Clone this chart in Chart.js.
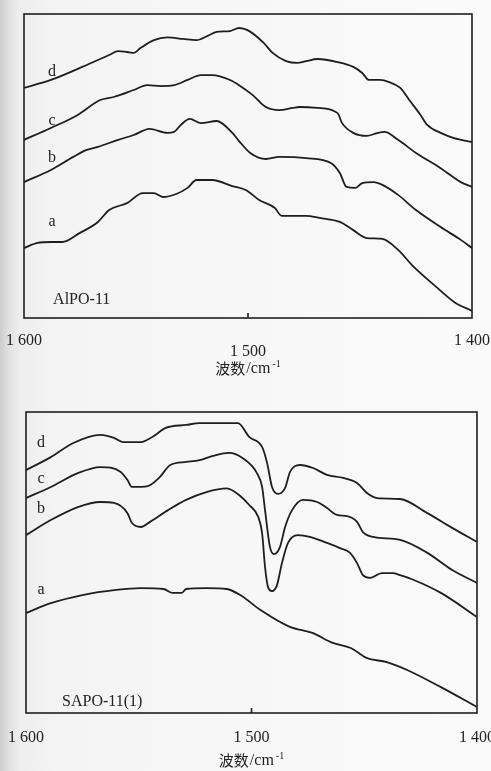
<!DOCTYPE html>
<html>
<head>
<meta charset="utf-8">
<script src="https://cdn.jsdelivr.net/npm/chart.js@4.4.1/dist/chart.umd.min.js"></script>
<style>
html, body { margin: 0; padding: 0; }
body {
    width: 491px; height: 771px; overflow: hidden; position: relative;
    background: linear-gradient(to right, #cdcdcd 0px, #e2e2e2 9px, #eeeeee 20px, #f4f4f4 60px, #f8f8f8 300px, #fafafa 491px);
}
.panel { position: absolute; left: 0; }
#top { top: 0; }
#bottom { top: 390px; }
</style>
</head>
<body>
<div class="panel" id="top"><canvas id="alpo" width="520" height="390"></canvas></div>
<div class="panel" id="bottom"><canvas id="sapo" width="520" height="381"></canvas></div>

<script>
// x axis: wavenumber (cm-1), y: relative absorbance (arbitrary units, 0-100)
const tickValues = [1600, 1500, 1400];

// AlPO-11
const alpoWnA = [1600,1594,1588,1583,1575,1567,1562,1554,1547,1542,1538,1532,1527,1523,1516,1507,1501,1495,1488,1485,1474,1468,1459,1453,1447,1440,1433,1426,1417,1408,1400];
const alpoA   = [23.0,24.7,25.0,25.0,28.0,31.6,35.5,37.8,41.1,41.1,39.8,40.8,42.8,45.4,45.4,43.4,42.1,38.8,36.2,33.6,33.6,32.9,31.6,28.9,26.3,26.0,22.4,16.8,10.9,5.3,2.3];

const alpoWnB = [1600,1588,1578,1572,1567,1558,1551,1544,1536,1533,1530,1526,1521,1514,1507,1504,1499,1492,1486,1474,1463,1459,1456,1452,1449,1444,1440,1433,1425,1414,1405,1400];
const alpoB   = [44.7,48.7,53.0,55.3,56.3,58.6,60.2,62.2,60.9,61.2,63.5,65.5,64.1,64.8,60.9,58.2,54.3,52.3,53.0,52.6,51.0,47.7,43.1,42.8,44.4,44.7,43.8,40.5,35.5,29.9,25.7,23.0];

const alpoWnC = [1600,1588,1576,1566,1560,1551,1545,1539,1533,1527,1521,1516,1508,1504,1498,1492,1486,1480,1477,1469,1460,1458,1453,1447,1442,1439,1433,1425,1414,1405,1400];
const alpoC   = [58.6,62.5,66.8,71.7,72.7,75.0,76.6,76.3,76.6,78.3,79.9,79.9,78.3,76.6,73.4,69.4,68.4,69.1,69.4,69.1,67.4,64.1,60.9,59.9,60.9,61.2,58.6,54.3,49.3,44.7,43.1];

const alpoWnD = [1600,1588,1574,1562,1558,1554,1551,1548,1542,1536,1529,1523,1518,1514,1508,1504,1500,1493,1489,1483,1478,1474,1469,1460,1453,1449,1446,1441,1437,1432,1428,1423,1420,1414,1408,1400];
const alpoD   = [75.7,78.3,82.6,86.5,87.8,87.5,87.2,88.8,91.4,92.3,91.8,91.4,92.8,94.1,94.4,95.4,94.6,90.5,87.2,84.5,83.9,84.5,85.2,84.2,82.6,80.6,78.3,78.3,77.6,75.7,71.7,66.8,63.5,60.9,59.2,57.9];

// SAPO-11(1)
const sapoWnA = [1600,1589,1575,1560,1549,1539,1535,1531,1529,1520,1511,1505,1496,1483,1473,1464,1456,1449,1440,1431,1416,1400];
const sapoA   = [33.2,36.5,39.2,40.9,41.5,41.2,39.9,39.9,41.2,41.5,41.2,39.2,34.2,28.6,26.6,23.3,21.6,18.3,16.9,14.3,8.6,2.0];

const sapoWnB = [1600,1589,1577,1567,1561,1555,1553,1549,1545,1537,1529,1520,1511,1505,1501,1497,1495.3,1494,1492.7,1490.9,1488.7,1486.5,1483.8,1479.4,1474.1,1466.5,1460.8,1456.3,1453.2,1450.6,1447.5,1442.2,1437.3,1434.1,1428,1416,1400];
const sapoB   = [59.1,64.1,68.4,70.1,69.8,66.4,63.1,61.8,63.5,67.4,70.8,73.4,74.6,72.1,69.1,65.1,59.8,48.5,41.9,40.5,42.5,49.8,56.5,59.1,58.5,56.5,54.8,53.2,49.8,45.8,44.9,46.5,46.5,45.8,44.2,39.9,31.9];

const sapoWnC = [1600,1589,1577,1567,1558,1555,1553,1546,1541,1536,1529,1523,1517,1510,1504,1497.6,1495.3,1494,1491.8,1490,1487.4,1485.1,1482,1477.2,1470.9,1466.5,1462.1,1457.6,1453.2,1450.6,1446.1,1434.1,1422,1411,1400];
const sapoC   = [71.4,75.1,79.7,81.7,80.1,77.4,75.1,75.4,78.1,82.4,83.4,84.0,85.4,86.4,84.7,79.7,75.1,67.4,55.1,52.8,55.1,61.8,67.4,70.8,70.1,68.1,65.8,65.4,63.5,60.1,58.5,57.5,53.2,47.5,43.2];

const sapoWnD = [1600,1589,1579,1567,1561,1557,1549,1544,1538,1529,1523,1506,1501,1495.3,1493.1,1490.9,1488.2,1485.1,1482.9,1478.5,1472.7,1466.5,1459.4,1453.2,1448.8,1444.3,1434.1,1422,1411,1400];
const sapoD   = [80.7,85.0,89.7,92.4,91.4,90.0,90.0,91.7,94.7,95.7,96.3,96.3,91.7,88.4,83.1,75.1,72.8,74.8,80.1,82.4,81.4,79.1,78.1,76.4,73.1,71.4,71.1,66.4,61.5,56.8];

function points(wn, values) {
    return wn.map((w, i) => ({ x: w, y: values[i] }));
}

function curve(wn, values) {
    return {
        data: points(wn, values),
        borderColor: '#1e1e1e',
        borderWidth: 1.8,
        pointRadius: 0,
        fill: false,
        cubicInterpolationMode: 'monotone'
    };
}

function tickText(v) {
    const s = String(v);
    return s[0] + ' ' + s.slice(1);
}

// frame, inward tick, curve letters, sample name and axis caption
const framePlugin = {
    id: 'frame',
    afterDatasetsDraw(chart, args, opts) {
        const { ctx, chartArea: ca, scales: { x, y } } = chart;
        ctx.save();
        ctx.strokeStyle = '#1e1e1e';
        ctx.lineWidth = 1.6;
        ctx.strokeRect(ca.left, ca.top, ca.right - ca.left, ca.bottom - ca.top);
        const tx = x.getPixelForValue(1500);
        ctx.beginPath();
        ctx.moveTo(tx, ca.bottom);
        ctx.lineTo(tx, ca.bottom - 5);
        ctx.stroke();

        ctx.fillStyle = '#222';
        ctx.textBaseline = 'middle';
        ctx.textAlign = 'center';
        ctx.font = '16px "Liberation Serif"';
        opts.letters.forEach(l => {
            ctx.fillText(l.text, x.getPixelForValue(l.x), y.getPixelForValue(l.y));
        });

        ctx.textAlign = 'left';
        ctx.font = '16px "Liberation Serif"';
        ctx.fillText(opts.name, x.getPixelForValue(opts.nameAt[0]), y.getPixelForValue(opts.nameAt[1]));

        // 波数/cm-1
        const cx = (ca.left + ca.right) / 2;
        const cy = ca.bottom + opts.captionGap;
        const fCjk = '15px "Noto Sans CJK SC"';
        const fLat = '16px "Liberation Serif"';
        const fSup = '10px "Liberation Serif"';
        ctx.font = fCjk; const w1 = ctx.measureText('波数').width;
        ctx.font = fLat; const w2 = ctx.measureText('/cm').width;
        ctx.font = fSup; const w3 = ctx.measureText('-1').width;
        let px = cx - (w1 + w2 + w3 + 3) / 2;
        ctx.font = fCjk; ctx.fillText('波数', px, cy); px += w1 + 1;
        ctx.font = fLat; ctx.fillText('/cm', px, cy + 1); px += w2 + 2;
        ctx.font = fSup; ctx.fillText('-1', px, cy - 4);
        ctx.restore();
    }
};

function makeChart(id, datasets, cfg) {
    return new Chart(document.getElementById(id), {
        type: 'line',
        data: { datasets: datasets },
        plugins: [framePlugin],
        options: {
            responsive: false,
            animation: false,
            layout: { padding: cfg.padding },
            plugins: {
                legend: { display: false },
                tooltip: { enabled: false },
                frame: cfg.frame
            },
            scales: {
                x: {
                    type: 'linear',
                    min: 1400,
                    max: 1600,
                    reverse: true,
                    afterBuildTicks: (scale) => { scale.ticks = tickValues.map(v => ({ value: v })); },
                    afterFit: (scale) => { scale.height = cfg.axisHeight; },
                    grid: { display: false, drawTicks: true, tickLength: cfg.tickGap },
                    border: { display: false },
                    ticks: {
                        autoSkip: false,
                        maxRotation: 0,
                        padding: 0,
                        color: '#222',
                        font: { family: '"Liberation Serif"', size: 16, lineHeight: 0.72 },
                        callback: (v) => (cfg.dropMiddle && v === 1500) ? ['', tickText(v)] : tickText(v)
                    }
                },
                y: { display: false, min: 0, max: 100 }
            }
        }
    });
}

makeChart('alpo', [
    curve(alpoWnA, alpoA),
    curve(alpoWnB, alpoB),
    curve(alpoWnC, alpoC),
    curve(alpoWnD, alpoD)
], {
    padding: { left: 24, top: 14, right: 48, bottom: 0 },
    axisHeight: 72,
    tickGap: 17,
    dropMiddle: true,
    frame: {
        letters: [
            { text: 'a', x: 1587.5, y: 31.6 },
            { text: 'b', x: 1587.5, y: 52.6 },
            { text: 'c', x: 1587.5, y: 64.8 },
            { text: 'd', x: 1587.5, y: 80.9 }
        ],
        name: 'AlPO-11',
        nameAt: [1587, 5.9],
        captionGap: 50
    }
});

makeChart('sapo', [
    curve(sapoWnA, sapoA),
    curve(sapoWnB, sapoB),
    curve(sapoWnC, sapoC),
    curve(sapoWnD, sapoD)
], {
    padding: { left: 26, top: 22, right: 43, bottom: 0 },
    axisHeight: 58,
    tickGap: 19,
    dropMiddle: false,
    frame: {
        letters: [
            { text: 'a', x: 1593.3, y: 40.9 },
            { text: 'b', x: 1593.3, y: 67.8 },
            { text: 'c', x: 1593.3, y: 77.7 },
            { text: 'd', x: 1593.3, y: 89.7 }
        ],
        name: 'SAPO-11(1)',
        nameAt: [1584, 3.7],
        captionGap: 47
    }
});
</script>
</body>
</html>
